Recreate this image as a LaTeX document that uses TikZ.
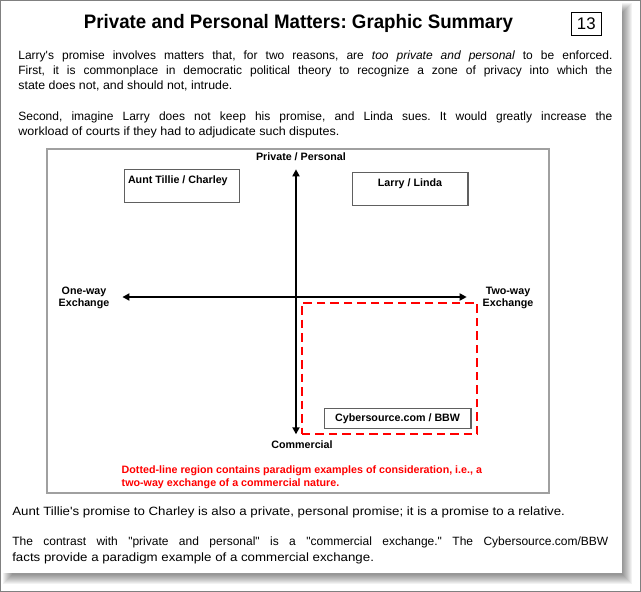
\documentclass[tikz,border=0pt]{standalone}
\usepackage{graphicx}
\usetikzlibrary{arrows.meta}
\font\fTitle="Liberation Sans/B" at 19.5pt
\font\fBody="Liberation Sans" at 12pt
\font\fBodyIt="Liberation Sans/I" at 12pt
\font\fLab="Liberation Sans/B" at 10.7pt
\font\fNum="Liberation Sans" at 16.8pt
\definecolor{framegray}{HTML}{A0A0A0}
\definecolor{boxgray}{HTML}{606060}
\definecolor{bordergray}{HTML}{808080}
\definecolor{redline}{HTML}{FF0000}
\frenchspacing
\newsavebox\fitbox
\newcommand\fitj[2]{\sbox\fitbox{#2}\ifdim\wd\fitbox>#1\relax\resizebox{#1}{\height}{\usebox\fitbox}\else\makebox[#1][s]{#2}\fi}
\newcommand\fitn[2]{\resizebox{#1}{\height}{#2}}
\tikzset{
  txt/.style={inner sep=0pt, outer sep=0pt, anchor=base west, font=\fBody},
  lab/.style={inner sep=0pt, outer sep=0pt, anchor=base, font=\fLab},
  labbox/.style={draw=boxgray, line width=1.2pt, inner sep=0pt, fill=white},
  axis/.style={line width=2.2pt, black, {Triangle[length=7pt,width=7pt]}-{Triangle[length=7pt,width=7pt]}},
  zonebox/.style={draw=redline, line width=2.3pt, dash pattern=on 8.5pt off 5pt, inner sep=0pt}
}
\begin{document}
\begin{tikzpicture}[x=1pt,y=-1pt]
\useasboundingbox (0,0) rectangle (641,592);
% shadow and page
\foreach \k in {0,...,9} \fill[black,opacity=0.05] (3+\k,3+\k) rectangle (632-\k,584-\k);
\fill[white] (0,0) rectangle (622,573);
\draw[bordergray, line width=1pt] (0.5,0.5) rectangle (640.5,591.5);
% title
\node[inner sep=0pt, anchor=base] (title) at (298.5,28.8) {\fitn{429pt}{\fTitle Private and Personal Matters: Graphic Summary}};
\node[draw=black, line width=0.8pt, minimum width=29.5pt, minimum height=22.3pt, inner sep=0pt] (num) at (586.25,23.85) {};
\node[inner sep=0pt, anchor=base, font=\fNum] (numT) at (586.25,29.5) {13};
% top paragraphs
\node[txt] (p1) at (18.4,59) {\fitj{594pt}{Larry's promise involves matters that, for two reasons, are {\fBodyIt too private and personal} to be enforced.}};
\node[txt] (p2) at (18.4,74.3) {\fitj{594pt}{First, it is commonplace in democratic political theory to recognize a zone of privacy into which the}};
\node[txt] (p3) at (18.4,89.6) {\fitn{214pt}{state does not, and should not, intrude.}};
\node[txt] (p4) at (18.4,120.3) {\fitj{594pt}{Second, imagine Larry does not keep his promise, and Linda sues. It would greatly increase the}};
\node[txt] (p5) at (18.4,135.6) {\fitn{321pt}{workload of courts if they had to adjudicate such disputes.}};
% diagram frame
\node[draw=framegray, line width=1.3pt, minimum width=502pt, minimum height=344pt, inner sep=0pt] (frame) at (298,321) {};
% axes
\coordinate (top) at (296,169.3);
\coordinate (bot) at (296,434.3);
\coordinate (lft) at (122.4,297);
\coordinate (rgt) at (466.7,297);
\draw[axis] (lft) -- (rgt);
\draw[axis] (top) -- (bot);
% axis labels
\node[lab] (priv) at (301,160) {Private / Personal};
\node[lab] (comm) at (302,448.3) {Commercial};
\node[lab] (oneA) at (84,294) {One-way};
\node[lab] (oneB) at (84,306) {Exchange};
\node[lab] (twoA) at (508,294) {Two-way};
\node[lab] (twoB) at (508,306) {Exchange};
% red dashed region
\node[zonebox, minimum width=175.5pt, minimum height=131.5pt] (zone) at (389.55,368.45) {};
% boxes
\node[labbox, minimum width=115pt, minimum height=33.4pt] (aunt) at (181.8,186) {};
\node[lab, anchor=base west] (auntT) at (128,183) {Aunt Tillie / Charley};
\node[labbox, minimum width=115.7pt, minimum height=33pt] (larry) at (410.15,189.2) {};
\node[lab] (larryT) at (410,186.7) {Larry / Linda};
\node[labbox, minimum width=146.7pt, minimum height=20pt] (cyber) at (397.65,418.3) {};
\node[lab] (cyberT) at (397.65,421.7) {Cybersource.com / BBW};
% red note
\node[lab, anchor=base west, text=redline] (note1) at (121.7,473) {Dotted-line region contains paradigm examples of consideration, i.e., a};
\node[lab, anchor=base west, text=redline] (note2) at (121.7,486) {two-way exchange of a commercial nature.};
% bottom paragraphs
\node[txt] (q1) at (12.3,515) {\fitn{552.7pt}{Aunt Tillie's promise to Charley is also a private, personal promise; it is a promise to a relative.}};
\node[txt] (q2) at (12.3,545.7) {\fitj{596pt}{The contrast with "private and personal" is a "commercial exchange." The Cybersource.com/BBW}};
\node[txt] (q3) at (12.3,561) {\fitn{361.7pt}{facts provide a paradigm example of a commercial exchange.}};
\end{tikzpicture}
\end{document}
